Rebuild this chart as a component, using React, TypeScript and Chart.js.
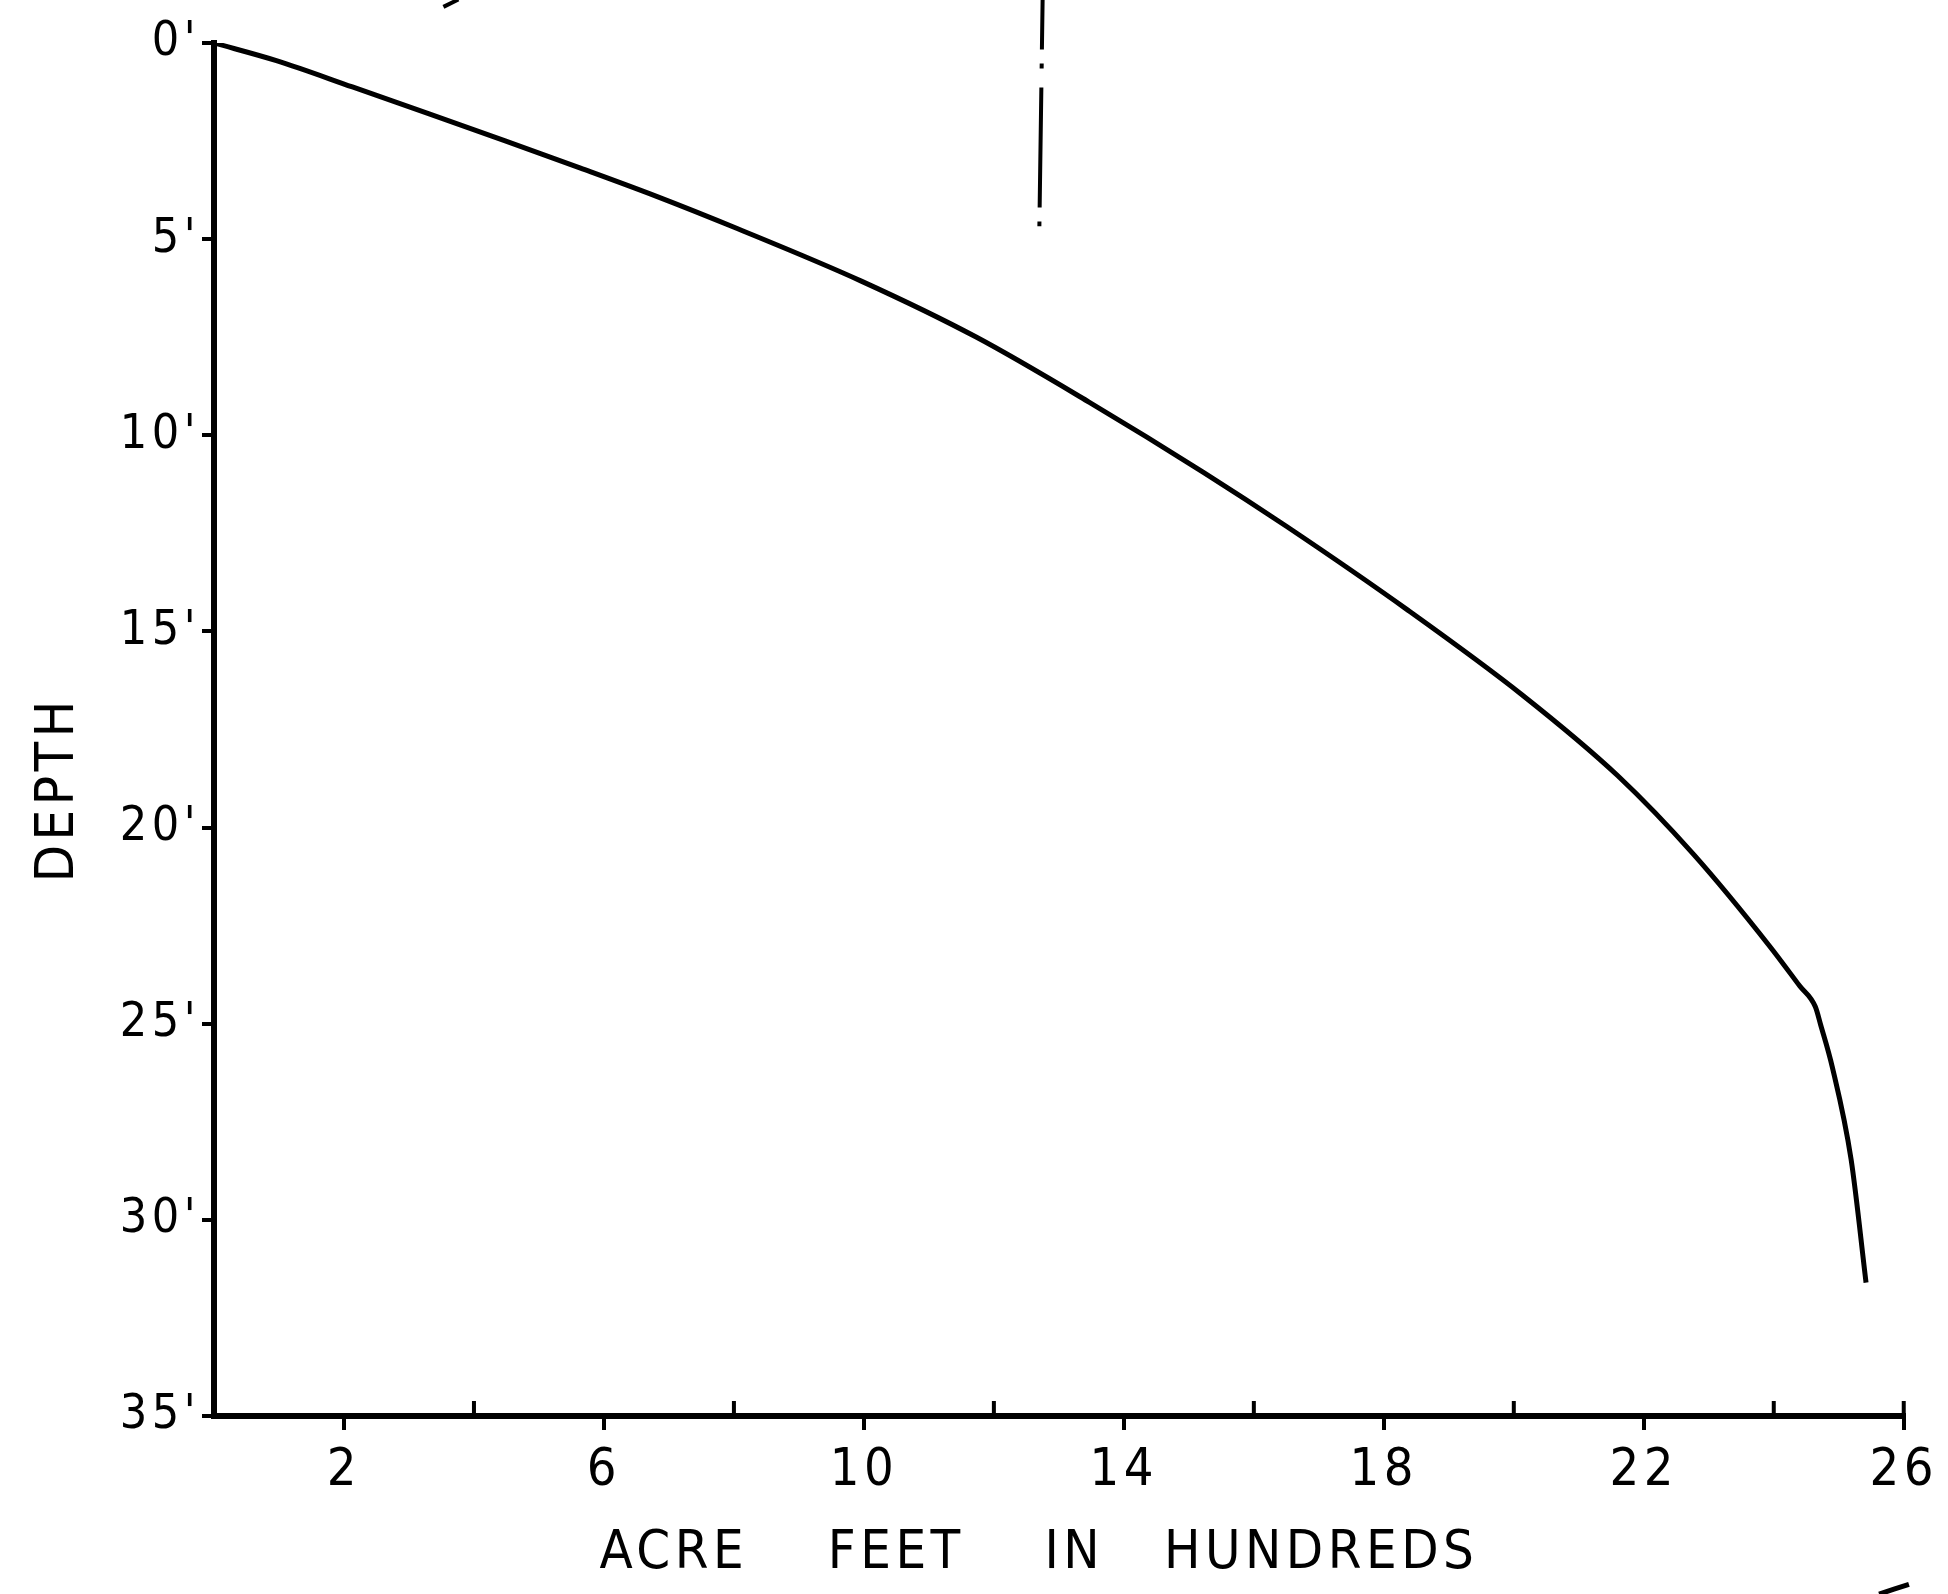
import React, { useEffect, useRef } from "react";
import { Chart, registerables } from "chart.js";

Chart.register(...registerables);

// Capacity curve: acre feet (hundreds) vs depth (feet)
const acreFeet = [0, 0.96, 2.13, 3.3, 4.47, 5.64, 6.81, 8.05, 9.96, 11.72, 13.47, 15.23, 16.5, 18.38, 20.13, 21.6, 22.77, 23.94, 24.4, 24.64, 24.72, 24.9, 25.19, 25.42];
const depthFt = [0, 0.45, 1.12, 1.8, 2.49, 3.19, 3.91, 4.73, 6.07, 7.49, 9.16, 10.95, 12.32, 14.47, 16.62, 18.68, 20.69, 23.03, 24.04, 24.57, 25.02, 26.1, 28.46, 31.6];

// dash-dot marker line near the top
const markerX = [12.75, 12.7];
const markerY = [-1.11, 4.67];

// stray pen marks on the sheet
const strokeTopX = [3.53, 3.76];
const strokeTopY = [-0.92, -1.11];
const arcX = [25.62, 26.08, 26.54];
const arcY = [39.54, 39.29, 39.04];

const xLabelTicks = [2, 6, 10, 14, 18, 22, 26];
const xInnerTicks = [4, 8, 12, 16, 20, 24, 26];
const xTitle = "ACRE    FEET    IN   HUNDREDS  ";
const yTitle = "DEPTH      ";

const FONT = "'DejaVu Sans Condensed', 'DejaVu Sans', sans-serif";
const SPACING = "4.5px";
const W = 1948;
const H = 1594;

const spacingPlugin = {
  id: "letterSpacing",
  beforeLayout(chart: any) {
    (chart.ctx as any).letterSpacing = SPACING;
  },
  beforeDraw(chart: any) {
    (chart.ctx as any).letterSpacing = SPACING;
  },
};

const innerTicksPlugin = {
  id: "innerTicks",
  afterDraw(chart: any) {
    const xs = chart.scales.x;
    const ctx = chart.ctx;
    const y = chart.chartArea.bottom;
    ctx.save();
    ctx.strokeStyle = "#000";
    ctx.lineWidth = 4;
    for (const v of xInnerTicks) {
      const px = xs.getPixelForValue(v);
      ctx.beginPath();
      ctx.moveTo(px, y);
      ctx.lineTo(px, y - 15);
      ctx.stroke();
    }
    ctx.restore();
  },
};

const toPts = (xs: number[], ys: number[]) => xs.map((x, i) => ({ x, y: ys[i] }));

export default function App() {
  const ref = useRef<HTMLCanvasElement | null>(null);

  useEffect(() => {
    if (!ref.current) return;
    const chart = new Chart(ref.current, {
      type: "line",
      data: {
        datasets: [
          {
            data: toPts(acreFeet, depthFt),
            borderColor: "#000",
            borderWidth: 5,
            pointRadius: 0,
            cubicInterpolationMode: "monotone",
            fill: false,
          },
          {
            data: toPts(markerX, markerY),
            borderColor: "#000",
            borderWidth: 4,
            borderDash: [50, 14, 5, 19, 120, 14, 5, 300],
            pointRadius: 0,
            fill: false,
            clip: false as any,
          },
          {
            data: toPts(strokeTopX, strokeTopY),
            borderColor: "#000",
            borderWidth: 4,
            pointRadius: 0,
            fill: false,
            clip: false as any,
          },
          {
            data: toPts(arcX, arcY),
            borderColor: "#000",
            borderWidth: 5,
            pointRadius: 0,
            tension: 0.4,
            fill: false,
            clip: false as any,
          },
        ],
      },
      plugins: [spacingPlugin, innerTicksPlugin],
      options: {
        animation: false,
        responsive: false,
        devicePixelRatio: 1,
        layout: { padding: { left: 27, right: 35, top: 43, bottom: 8 } },
        plugins: {
          legend: { display: false },
          tooltip: { enabled: false },
        },
        scales: {
          x: {
            type: "linear",
            min: 0,
            max: 26,
            afterFit: (s: any) => {
              s.height = H - 8 - 1416;
            },
            ticks: {
              stepSize: 2,
              autoSkip: false,
              maxRotation: 0,
              color: "#000",
              padding: 10,
              font: { family: FONT, size: 52 },
              callback: (v: any) => (xLabelTicks.includes(Number(v)) ? String(v) : ""),
            },
            grid: {
              drawOnChartArea: false,
              drawTicks: true,
              tickLength: 14,
              lineWidth: 4,
              color: (c: any) =>
                c.tick && xLabelTicks.includes(c.tick.value) ? "#000" : "rgba(0,0,0,0)",
            },
            border: { display: true, color: "#000", width: 6 },
            title: {
              display: true,
              text: xTitle,
              color: "#000",
              font: { family: FONT, size: 54 },
              padding: { top: 0, bottom: 0 },
            },
          },
          y: {
            type: "linear",
            reverse: true,
            min: 0,
            max: 35,
            afterFit: (s: any) => {
              s.width = 214 - 27;
            },
            ticks: {
              stepSize: 5,
              color: "#000",
              padding: 2,
              font: { family: FONT, size: 48 },
              callback: (v: any) => `${v}'`,
            },
            grid: {
              drawOnChartArea: false,
              drawTicks: true,
              tickLength: 12,
              lineWidth: 4,
              color: "#000",
            },
            border: { display: true, color: "#000", width: 6 },
            title: {
              display: true,
              text: yTitle,
              color: "#000",
              font: { family: FONT, size: 54 },
              padding: { top: 0, bottom: 0 },
            },
          },
        },
      },
    });
    return () => chart.destroy();
  }, []);

  return (
    <div style={{ position: "absolute", left: 0, top: 0, width: W, height: H, background: "#fff" }}>
      <canvas ref={ref} width={W} height={H} style={{ width: W, height: H, display: "block" }} />
    </div>
  );
}
